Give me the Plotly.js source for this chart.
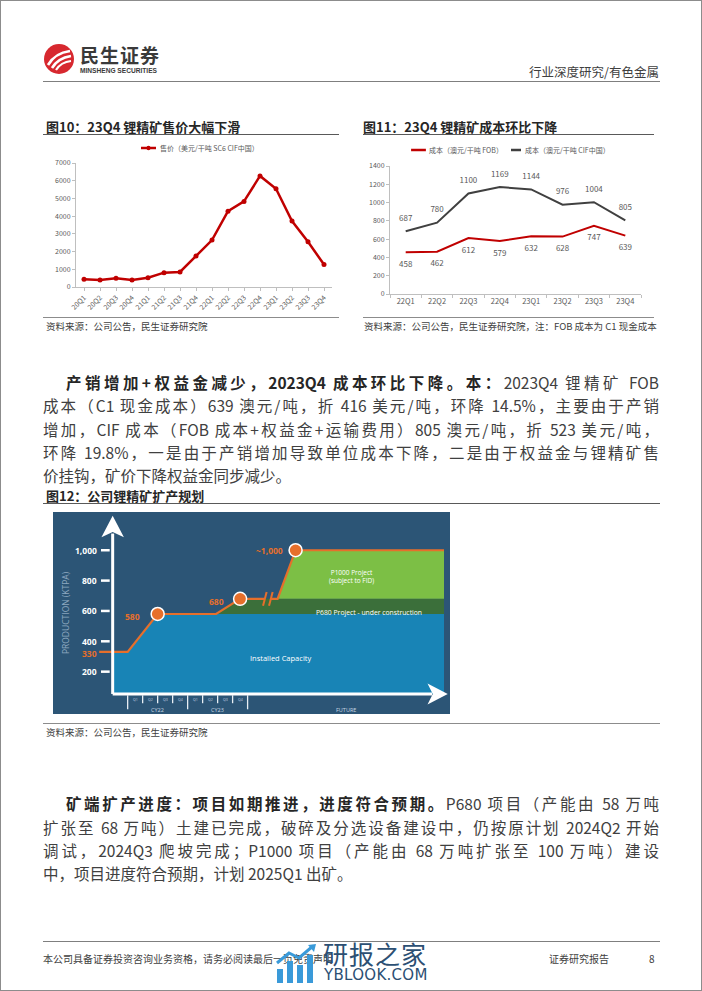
<!DOCTYPE html>
<html>
<head>
<meta charset="utf-8">
<script src="https://cdn.plot.ly/plotly-3.0.1.min.js"></script>
<style>
body { margin: 0; background: #fff; }
#page { position: relative; width: 700px; height: 989px; border: 1px solid #8c8c8c; background: #fff;
  font-family: "Noto Sans CJK SC", "Noto Sans", sans-serif; color: #404040; overflow: hidden; }
.t { position: absolute; white-space: nowrap; }
.ln { position: absolute; white-space: nowrap; font-size: 15.5px; line-height: 22px; height: 22px;
  text-align: justify; text-align-last: justify; }
.last { text-align-last: left; }
.fig-title { position: absolute; font-size: 13px; font-weight: bold; color: #262626; white-space: nowrap; }
.rule { position: absolute; height: 0; }
.src { position: absolute; font-size: 9.5px; color: #404040; white-space: nowrap; }
.chart { position: absolute; }
</style>
</head>
<body>
<div id="page">

  <!-- header -->
  <svg class="t" style="left:42px;top:42px" width="32" height="32" viewBox="0 0 32 32">
    <circle cx="16" cy="16" r="15" fill="#d7282f"/>
    <path d="M5 22 Q12 10 27 8" stroke="#fff" stroke-width="2.6" fill="none"/>
    <path d="M9 25 Q15 15 28 13" stroke="#fff" stroke-width="2.6" fill="none"/>
    <path d="M13 27 Q18 19 28 18" stroke="#fff" stroke-width="2.2" fill="none"/>
  </svg>
  <div class="t" style="left:79px;top:43px;font-size:19px;font-weight:bold;color:#3a3a3a;letter-spacing:1px;line-height:22px">民生证券</div>
  <div class="t" style="left:79px;top:66px;font-size:6.6px;font-weight:bold;color:#3a3a3a;font-family:'Liberation Sans',sans-serif;line-height:8px">MINSHENG SECURITIES</div>
  <div class="t" style="right:42px;top:63px;font-size:12.5px;color:#404040;line-height:16px">行业深度研究/有色金属</div>
  <div class="rule" style="left:42px;top:80px;width:617px;border-top:1px solid #7f7f7f"></div>

  <!-- figure 10 -->
  <div class="fig-title" style="left:45px;top:116px">图10：23Q4 锂精矿售价大幅下滑</div>
  <div class="rule" style="left:42px;top:133px;width:296px;border-top:1.5px solid #595959"></div>
  <div id="chart10" class="chart" style="left:42px;top:135px;width:296px;height:180px"></div>
  <div class="rule" style="left:42px;top:316px;width:296px;border-top:1px solid #8c8c8c"></div>
  <div class="src" style="left:45px;top:318px">资料来源：公司公告，民生证券研究院</div>

  <!-- figure 11 -->
  <div class="fig-title" style="left:362px;top:116px">图11：23Q4 锂精矿成本环比下降</div>
  <div class="rule" style="left:362px;top:133px;width:291px;border-top:1.5px solid #595959"></div>
  <div id="chart11" class="chart" style="left:362px;top:138px;width:291px;height:177px"></div>
  <div class="rule" style="left:362px;top:316px;width:291px;border-top:1px solid #8c8c8c"></div>
  <div class="src" style="left:363px;top:318px">资料来源：公司公告，民生证券研究院，注：FOB 成本为 C1 现金成本</div>

  <!-- paragraph 1 -->
  <div class="ln" style="left:65px;top:370px;width:593px"><b style="color:#262626">产销增加+权益金减少，2023Q4 成本环比下降。本：</b>2023Q4 锂精矿 FOB</div>
  <div class="ln" style="left:42px;top:393px;width:616px">成本（C1 现金成本）639 澳元/吨，折 416 美元/吨，环降 14.5%，主要由于产销</div>
  <div class="ln" style="left:42px;top:417px;width:616px">增加，CIF 成本（FOB 成本+权益金+运输费用）805 澳元/吨，折 523 美元/吨，</div>
  <div class="ln" style="left:42px;top:440px;width:616px">环降 19.8%，一是由于产销增加导致单位成本下降，二是由于权益金与锂精矿售</div>
  <div class="ln last" style="left:42px;top:463px;width:616px">价挂钩，矿价下降权益金同步减少。</div>

  <!-- figure 12 -->
  <div class="fig-title" style="left:45px;top:485px">图12：公司锂精矿扩产规划</div>
  <div class="rule" style="left:42px;top:502px;width:617px;border-top:1.5px solid #595959"></div>
  <div id="chart12" class="chart" style="left:52px;top:511px;width:397px;height:202px"></div>
  <div class="rule" style="left:42px;top:722px;width:617px;border-top:1px solid #8c8c8c"></div>
  <div class="src" style="left:45px;top:724px">资料来源：公司公告，民生证券研究院</div>

  <!-- paragraph 2 -->
  <div class="ln" style="left:65px;top:791px;width:593px"><b style="color:#262626">矿端扩产进度：项目如期推进，进度符合预期。</b>P680 项目（产能由 58 万吨</div>
  <div class="ln" style="left:42px;top:815px;width:616px">扩张至 68 万吨）土建已完成，破碎及分选设备建设中，仍按原计划 2024Q2 开始</div>
  <div class="ln" style="left:42px;top:838px;width:616px">调试，2024Q3 爬坡完成；P1000 项目（产能由 68 万吨扩张至 100 万吨）建设</div>
  <div class="ln last" style="left:42px;top:861px;width:616px">中，项目进度符合预期，计划 2025Q1 出矿。</div>

  <!-- footer -->
  <div class="rule" style="left:42px;top:940px;width:617px;border-top:1px solid #7f7f7f"></div>
  <div class="t" style="left:42px;top:951px;font-size:10px;color:#404040;line-height:14px">本公司具备证券投资咨询业务资格，请务必阅读最后一页免责声明</div>
  <div class="t" style="left:548px;top:951px;font-size:10px;color:#404040;line-height:14px">证券研究报告</div>
  <div class="t" style="left:648px;top:951px;font-size:10px;color:#404040;line-height:14px">8</div>

  <!-- watermark -->
  <svg class="t" style="left:274px;top:942px" width="44" height="40" viewBox="0 0 44 40">
    <rect x="2" y="26" width="6" height="14" fill="#3a9ad9"/>
    <rect x="12" y="18" width="6" height="22" fill="#3a9ad9"/>
    <rect x="22" y="22" width="6" height="18" fill="#3a9ad9"/>
    <rect x="32" y="12" width="6" height="28" fill="#3a9ad9"/>
    <path d="M2 20 L14 10 L24 15 L38 3" stroke="#3a9ad9" stroke-width="3" fill="none"/>
    <path d="M33 2 L41 1 L39 9 Z" fill="#3a9ad9"/>
  </svg>
  <div class="t" style="left:322px;top:938px;font-size:25px;color:#2c4f73;line-height:28px;letter-spacing:1px">研报之家</div>
  <div class="t" style="left:323px;top:965px;font-size:15px;color:#2c4f73;line-height:18px;font-family:'DejaVu Sans',sans-serif;letter-spacing:0.3px">YBLOOK.COM</div>
</div>

<script>
// ---- figure 10: price ----
var priceQuarters = ['20Q1','20Q2','20Q3','20Q4','21Q1','21Q2','21Q3','21Q4',
                     '22Q1','22Q2','22Q3','22Q4','23Q1','23Q2','23Q3','23Q4'];
var priceUsd = [440, 400, 500, 400, 520, 810, 850, 1750, 2650, 4280, 4830, 6270, 5550, 3720, 2550, 1270];
var priceName = '售价（美元/干吨 SC6 CIF中国）';

// ---- figure 11: cost ----
var costQuarters = ['22Q1','22Q2','22Q3','22Q4','23Q1','23Q2','23Q3','23Q4'];
var costFob = [458, 462, 612, 579, 632, 628, 747, 639];
var costCif = [687, 780, 1100, 1169, 1144, 976, 1004, 805];
var fobName = '成本（澳元/干吨 FOB）';
var cifName = '成本（澳元/干吨 CIF中国）';

// ---- figure 12: expansion plan (x in quarters from CY22 start, y in ktpa) ----
var stepQ    = [-1.9, 0, 2, 5.9, 7.5, 10, 11.2, 21.1];
var stepKtpa = [330, 330, 580, 580, 680, 680, 1000, 1000];
var milestoneIdx = [2, 4, 6];
var milestoneText = ['580', '680', '~1,000'];
var prodTicks = [200, 400, 600, 800, 1000];
var prodTickText = ['200', '400', '600', '800', '1,000'];
var breakQ = [9.15, 9.55];
var periodNames = ['CY22', 'CY23', 'FUTURE'];
var quarterNames = ['Q1', 'Q2', 'Q3', 'Q4'];

var cjk = '"Noto Sans CJK SC", "Noto Sans", sans-serif';
var tickGray = '#595959';
var axGray = '#bfbfbf';
var red = '#c00000', dark = '#404040';

// legend drawn by hand so it doesn't push the plot area down
function legendItem(x0, x1, y, color, withMarker, label) {
  var s = [{type: 'line', xref: 'paper', yref: 'paper', x0: x0, x1: x1, y0: y, y1: y,
            line: {color: color, width: 2.5}}];
  if (withMarker) {
    var xm = (x0 + x1) / 2;
    s.push({type: 'circle', xref: 'paper', yref: 'paper', x0: xm - 0.008, x1: xm + 0.008,
            y0: y - 0.018, y1: y + 0.018, fillcolor: color, line: {width: 0}});
  }
  var a = {xref: 'paper', yref: 'paper', x: x1 + 0.006, y: y, xanchor: 'left', yanchor: 'middle',
           text: label, showarrow: false, font: {size: 7, color: tickGray}};
  return {shapes: s, ann: a};
}

var leg10 = legendItem(0.254, 0.3125, 1.121, red, true, priceName);

Plotly.newPlot('chart10', [{
  x: priceQuarters,
  y: priceUsd,
  type: 'scatter',
  mode: 'lines+markers',
  name: priceName,
  line: {color: red, width: 2.5},
  marker: {color: red, size: 5}
}], {
  width: 296, height: 180,
  margin: {l: 33, r: 7, t: 27, b: 29},
  paper_bgcolor: 'rgba(0,0,0,0)', plot_bgcolor: 'rgba(0,0,0,0)',
  font: {family: cjk, size: 7, color: tickGray},
  showlegend: false,
  shapes: leg10.shapes,
  annotations: [leg10.ann],
  xaxis: {type: 'category', range: [-0.5, 15.5], showline: true, linecolor: axGray,
          ticks: 'outside', ticklen: 3, tickcolor: axGray, tickangle: -45,
          tickfont: {size: 7, color: tickGray}, showgrid: false, zeroline: false, fixedrange: true},
  yaxis: {range: [0, 7000], dtick: 1000, showline: true, linecolor: axGray,
          ticks: 'outside', ticklen: 3, tickcolor: axGray,
          tickfont: {size: 7, color: tickGray}, showgrid: false, zeroline: false, fixedrange: true}
}, {displayModeBar: false, staticPlot: true});

var legFob = legendItem(0.084, 0.143, 1.125, red, false, fobName);
var legCif = legendItem(0.482, 0.522, 1.125, dark, false, cifName);

Plotly.newPlot('chart11', [{
  x: costQuarters, y: costFob, type: 'scatter', mode: 'lines+markers+text',
  name: fobName,
  text: costFob.map(String), textposition: 'bottom center',
  textfont: {size: 8, color: tickGray},
  marker: {size: 12, opacity: 0},
  line: {color: red, width: 2}
}, {
  x: costQuarters, y: costCif, type: 'scatter', mode: 'lines+markers+text',
  name: cifName,
  text: costCif.map(String), textposition: 'top center',
  textfont: {size: 8, color: tickGray},
  marker: {size: 12, opacity: 0},
  line: {color: dark, width: 2}
}], {
  width: 291, height: 177,
  margin: {l: 27, r: 13, t: 27, b: 22},
  paper_bgcolor: 'rgba(0,0,0,0)', plot_bgcolor: 'rgba(0,0,0,0)',
  font: {family: cjk, size: 7, color: tickGray},
  showlegend: false,
  shapes: legFob.shapes.concat(legCif.shapes),
  annotations: [legFob.ann, legCif.ann],
  xaxis: {type: 'category', range: [-0.5, 7.5], showline: true, linecolor: axGray,
          ticks: 'outside', ticklen: 3, tickcolor: axGray, tickson: 'boundaries',
          tickfont: {size: 7.5, color: tickGray}, showgrid: false, zeroline: false, fixedrange: true},
  yaxis: {range: [0, 1400], dtick: 200, showline: true, linecolor: axGray,
          ticks: 'outside', ticklen: 3, tickcolor: axGray,
          tickfont: {size: 7, color: tickGray}, showgrid: false, zeroline: false, fixedrange: true}
}, {displayModeBar: false, staticPlot: true});

// ---- figure 12 build ----
var navy = '#2c5576', blue = '#1884b6', darkGreen = '#3b6f3a', lightGreen = '#7cbf45', orange = '#e66f2b';
var axisQ = -1, baseK = 53, endQ = stepQ[stepQ.length - 1];
var installed = stepKtpa[2], p680 = stepKtpa[4], p1000 = stepKtpa[6];

var installedTrace = {
  x: [axisQ, axisQ, stepQ[1], stepQ[2], endQ, endQ],
  y: [baseK, stepKtpa[0], stepKtpa[1], installed, installed, baseK],
  fill: 'toself', fillcolor: blue, mode: 'none', type: 'scatter', hoverinfo: 'skip'
};
var p680Trace = {
  x: [stepQ[3], stepQ[4], endQ, endQ],
  y: [installed, p680, p680, installed],
  fill: 'toself', fillcolor: darkGreen, mode: 'none', type: 'scatter', hoverinfo: 'skip'
};
var p1000Trace = {
  x: [stepQ[5], stepQ[6], endQ, endQ],
  y: [p680, p1000, p1000, p680],
  fill: 'toself', fillcolor: lightGreen, mode: 'none', type: 'scatter', hoverinfo: 'skip'
};
// step line with a break between breakQ
var lineX = [], lineY = [];
stepQ.forEach(function (q, i) {
  if (i === 5) { lineX.push(breakQ[0], null, breakQ[1]); lineY.push(p680, null, p680); }
  lineX.push(q); lineY.push(stepKtpa[i]);
});
var stepTrace = {x: lineX, y: lineY, mode: 'lines', type: 'scatter',
  line: {color: orange, width: 2.2}, hoverinfo: 'skip', connectgaps: false};
var dotTrace = {
  x: milestoneIdx.map(function (i) { return stepQ[i]; }),
  y: milestoneIdx.map(function (i) { return stepKtpa[i]; }),
  mode: 'markers', type: 'scatter',
  marker: {color: orange, size: 13, line: {color: '#ffffff', width: 1.5}}, hoverinfo: 'skip'
};

var shapes = [];
var ann = [];
var white = '#ffffff';
var diagFont = 'Open Sans, sans-serif';
// axes
shapes.push({type: 'line', x0: axisQ, x1: axisQ, y0: baseK, y1: 1110, line: {color: white, width: 3}});
shapes.push({type: 'line', x0: axisQ, x1: 20.3, y0: baseK, y1: baseK, line: {color: white, width: 3}});
shapes.push({type: 'path', path: 'M -1 1228 L -1.75 1085 L -1 1120 L -0.25 1085 Z', fillcolor: white, line: {width: 0}});
shapes.push({type: 'path', path: 'M 21.35 53 L 20 122 L 20.35 53 L 20 -16 Z', fillcolor: white, line: {width: 0}});
// y ticks
prodTicks.forEach(function (v, i) {
  shapes.push({type: 'line', x0: -1.78, x1: -1.2, y0: v, y1: v, line: {color: white, width: 2.5}});
  ann.push({x: -1.9, y: v, text: '<b>' + prodTickText[i] + '</b>', xanchor: 'right', showarrow: false,
            font: {size: 8.5, color: white, family: diagFont}});
});
ann.push({x: -1.9, y: stepKtpa[0] - 10, text: '<b>' + stepKtpa[0] + '</b>', xanchor: 'right', showarrow: false,
          font: {size: 8.5, color: orange, family: diagFont}});
// break slashes
breakQ.forEach(function (q) {
  shapes.push({type: 'line', x0: q - 0.12, x1: q + 0.12, y0: p680 - 45, y1: p680 + 45, line: {color: orange, width: 2}});
});
// milestone labels (left of each dot)
var labelQ = [0.3, 5.9, 9.45];
milestoneIdx.forEach(function (idx, i) {
  ann.push({x: labelQ[i], y: stepKtpa[idx] - (i === 2 ? 0 : 15),
            text: '<b>' + milestoneText[i] + '</b>', xanchor: 'center', showarrow: false,
            font: {size: 8.5, color: orange, family: diagFont}});
});
// time ticks along bottom
for (var q = 0; q <= 8; q++) {
  var tall = (q % 4 === 0);
  shapes.push({type: 'line', x0: q, x1: q, y0: baseK - 8, y1: tall ? -48 : -8, line: {color: '#e8eef4', width: 1.3}});
  if (q < 8) {
    ann.push({x: q + 0.5, y: 14, text: quarterNames[q % 4], showarrow: false,
              font: {size: 3.5, color: '#c9d6e2', family: diagFont}});
  }
}
[2, 6, 14.55].forEach(function (q, i) {
  ann.push({x: q, y: -52, text: periodNames[i], showarrow: false, font: {size: 5.5, color: '#c9d6e2', family: diagFont}});
});
// region texts
ann.push({x: 14.9, y: 830, text: 'P1000 Project<br>(subject to FID)', showarrow: false,
          font: {size: 6.5, color: white, family: diagFont}});
ann.push({x: 16.1, y: 593, text: 'P680 Project - under construction', showarrow: false,
          font: {size: 6.8, color: white, family: diagFont}});
ann.push({x: 10.2, y: 290, text: 'Installed Capacity', showarrow: false,
          font: {size: 7.5, color: white, family: diagFont}});
ann.push({x: -4.1, y: 587, text: 'PRODUCTION (KTPA)', textangle: -90, showarrow: false,
          font: {size: 8.5, color: '#8ea8c0', family: diagFont}});

Plotly.newPlot('chart12', [installedTrace, p680Trace, p1000Trace, stepTrace, dotTrace], {
  width: 397, height: 202,
  margin: {l: 0, r: 0, t: 0, b: 0},
  paper_bgcolor: navy, plot_bgcolor: navy,
  showlegend: false,
  xaxis: {range: [-4.98, 21.5], visible: false, fixedrange: true},
  yaxis: {range: [-79, 1252], visible: false, fixedrange: true},
  shapes: shapes,
  annotations: ann
}, {displayModeBar: false, staticPlot: true});
</script>
</body>
</html>
